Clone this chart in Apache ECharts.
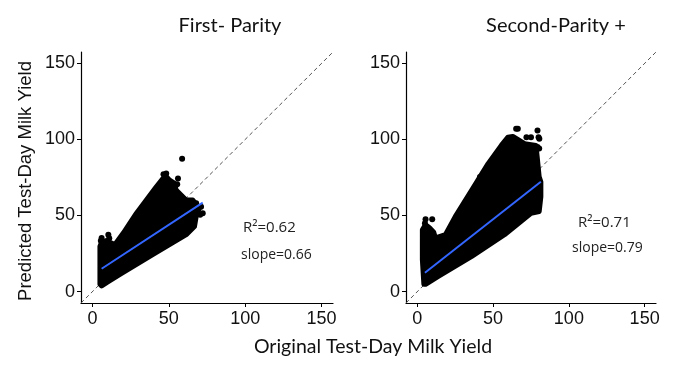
<!DOCTYPE html>
<html><head><meta charset="utf-8">
<script src="https://cdn.jsdelivr.net/npm/echarts@6/dist/echarts.min.js"></script>
<style>html,body{margin:0;padding:0;background:#fff}#c{width:677px;height:368px}</style>
</head><body><div id="c"></div>
<script>
// ---- data ----
const panelTitles = ['First- Parity', 'Second-Parity +'];
const xAxisTitle = 'Original Test-Day Milk Yield';
const yAxisTitle = 'Predicted Test-Day Milk Yield';
const tickValues = [0, 50, 100, 150];
const axisMin = -7.5, axisMax = 157.5;
const diagX = [-7.5, 157.5];
const diagY = [-7.5, 157.5];

// outline of the dense point cloud, first parity
const cloud1X = [4.9, 4.9, 6.0, 9.0, 11.0, 14.7, 20.2, 28.8, 35.3, 41.8, 46.2, 48.0, 50.5, 53.8, 54.8, 59.2, 61.4, 65.7, 70.0, 67.9, 66.8, 61.4, 39.7, 18.0, 9.3, 6.0];
const cloud1Y = [4.8, 29.7, 32.5, 33.5, 32.5, 30.9, 38.5, 51.5, 60.2, 68.9, 74.4, 76.0, 73.3, 71.1, 66.7, 62.4, 60.2, 60.2, 54.8, 49.3, 42.8, 37.4, 24.5, 11.3, 5.9, 3.7];
const outlier1X = [58.7, 48.3, 46.5, 56.0, 55.5, 58.1, 67.9, 71.1, 72.2, 70.5, 6.0, 10.4, 11.0, 5.5];
const outlier1Y = [87.4, 77.6, 77.2, 74.4, 70.5, 62.4, 58.0, 55.8, 51.5, 50.5, 35.2, 37.4, 35.0, 33.5];
const fit1X = [6.0, 72.2];
const fit1Y = [15.0, 58.5];

// outline of the dense point cloud, second parity +
const cloud2X = [4.3, 3.3, 3.3, 5.4, 8.0, 10.8, 11.9, 14.0, 18.5, 25.0, 35.9, 46.7, 55.4, 59.8, 63.0, 70.8, 78.3, 79.3, 80.4, 81.5, 81.5, 80.4, 75.0, 57.5, 35.9, 14.1, 5.4];
const cloud2Y = [4.8, 21.1, 40.6, 44.0, 42.0, 39.0, 35.2, 36.0, 37.4, 49.3, 66.7, 84.1, 96.1, 101.5, 102.0, 97.2, 96.1, 86.3, 75.4, 72.2, 62.4, 52.6, 51.5, 37.4, 23.2, 10.2, 4.8];
const outlier2X = [66.3, 65.2, 72.0, 75.0, 79.3, 80.0, 79.3, 80.5, 80.4, 41.3, 5.4, 9.8, 5.0];
const outlier2Y = [107.0, 107.0, 101.5, 101.5, 105.9, 101.5, 95.0, 100.5, 94.0, 75.4, 47.6, 47.6, 45.0];
const fit2X = [5.0, 81.5];
const fit2Y = [12.4, 72.2];

const r2Labels = ['R\u00b2=0.62', 'R\u00b2=0.71'];
const slopeLabels = ['slope=0.66', 'slope=0.79'];

// ---- chart ----
const chart = echarts.init(document.getElementById('c'), null, {renderer: 'canvas'});
const tickFont = {fontSize: 18, color: '#111', fontFamily: 'Liberation Sans, Arial, sans-serif'};

function xAx(i) {
  return {type: 'value', gridIndex: i, min: axisMin, max: axisMax,
    axisLine: {show: true, onZero: false, lineStyle: {color: '#000', width: 1.2}},
    axisTick: {show: true, customValues: tickValues, length: 4, lineStyle: {color: '#000', width: 1}},
    axisLabel: Object.assign({customValues: tickValues, margin: 7}, tickFont),
    splitLine: {show: false}};
}
function yAx(i) {
  return {type: 'value', gridIndex: i, min: axisMin, max: axisMax,
    axisLine: {show: true, onZero: false, lineStyle: {color: '#000', width: 1.2}},
    axisTick: {show: true, customValues: tickValues, length: 4, lineStyle: {color: '#000', width: 1}},
    axisLabel: Object.assign({customValues: tickValues, margin: 6}, tickFont),
    splitLine: {show: false}};
}
function zip(xs, ys) { return xs.map((x, i) => [x, ys[i]]); }
function cloud(i, xs, ys) {
  return {type: 'custom', xAxisIndex: i, yAxisIndex: i, z: 2, silent: true,
    data: zip(xs, ys),
    renderItem: function (params, api) {
      if (params.dataIndex !== 0) return null;
      const pts = xs.map((x, k) => api.coord([x, ys[k]]));
      return {type: 'polygon', shape: {points: pts},
        style: {fill: '#000', stroke: '#000', lineWidth: 5, lineJoin: 'round'}};
    }};
}
function pts(i, xs, ys) {
  return {type: 'scatter', xAxisIndex: i, yAxisIndex: i, z: 2, symbolSize: 6,
    itemStyle: {color: '#000', opacity: 1}, data: zip(xs, ys)};
}
function line(i, xs, ys, style, z) {
  return {type: 'line', xAxisIndex: i, yAxisIndex: i, z: z, symbol: 'none',
    lineStyle: style, data: zip(xs, ys)};
}
const dashStyle = {color: '#555', width: 1, type: [4, 3]};
const fitStyle = {color: '#3366FF', width: 2};

const ttl = (t, x, y, fs) => ({type: 'text', x: x, y: y, style: {text: t, font: fs + 'px Lato, sans-serif', fill: '#111', align: 'center', verticalAlign: 'middle'}});
const ann = (t, x, y, fs) => ({type: 'text', x: x, y: y, style: {text: t, font: fs + 'px "Open Sans", sans-serif', fill: '#222', align: 'left', verticalAlign: 'middle'}});

chart.setOption({
  animation: false,
  backgroundColor: '#fff',
  grid: [
    {left: 81, top: 52, width: 252, height: 251},
    {left: 406, top: 52, width: 250, height: 251}
  ],
  xAxis: [xAx(0), xAx(1)],
  yAxis: [yAx(0), yAx(1)],
  series: [
    line(0, diagX, diagY, dashStyle, 1),
    cloud(0, cloud1X, cloud1Y),
    pts(0, outlier1X, outlier1Y),
    line(0, fit1X, fit1Y, fitStyle, 3),
    line(1, diagX, diagY, dashStyle, 1),
    cloud(1, cloud2X, cloud2Y),
    pts(1, outlier2X, outlier2Y),
    line(1, fit2X, fit2Y, fitStyle, 3)
  ],
  graphic: [
    ttl(panelTitles[0], 230, 26, 20),
    ttl(panelTitles[1], 556, 26, 20),
    ttl(xAxisTitle, 373, 347, 19.5),
    {type: 'text', x: 26, y: 181, rotation: Math.PI / 2,
      style: {text: yAxisTitle, font: '18.5px "Liberation Sans", Arial, sans-serif', fill: '#111', align: 'center', verticalAlign: 'middle'}},
    ann(r2Labels[0], 243, 228, 15),
    ann(slopeLabels[0], 241, 255, 14),
    ann(r2Labels[1], 578, 223, 15),
    ann(slopeLabels[1], 572, 248, 14)
  ]
});
</script></body></html>
